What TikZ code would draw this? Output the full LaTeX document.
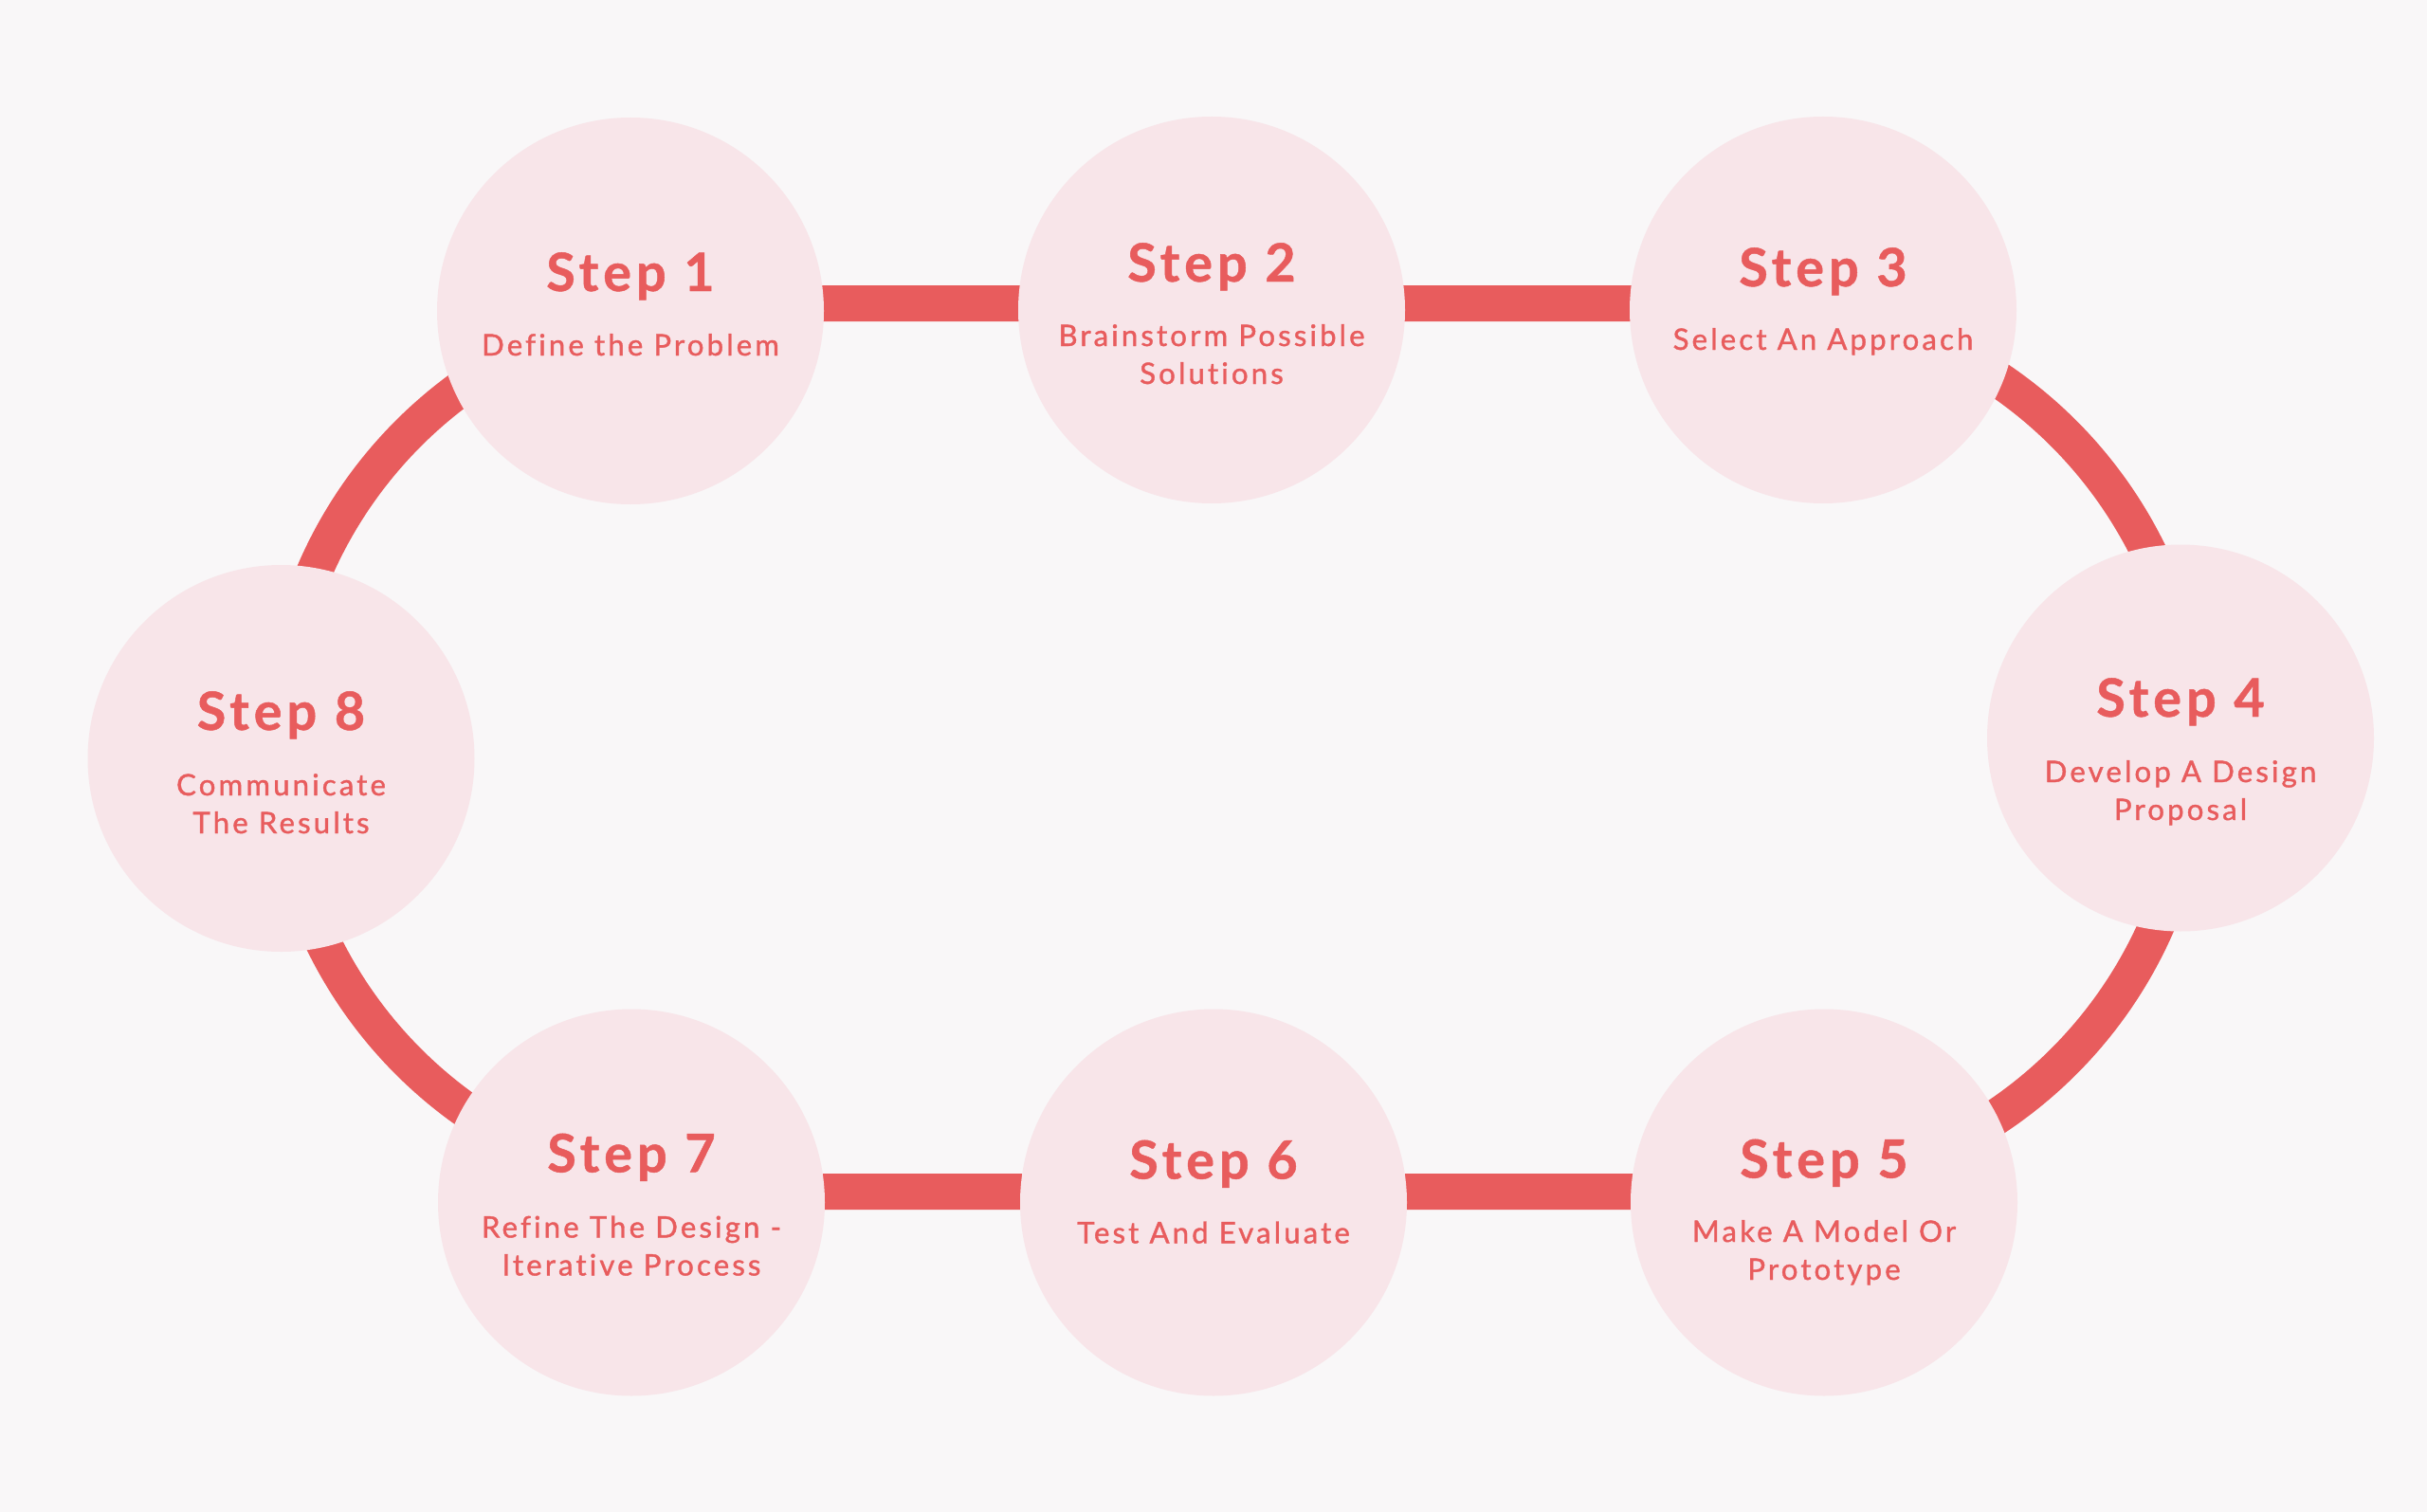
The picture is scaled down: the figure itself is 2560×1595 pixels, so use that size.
\documentclass[tikz,border=0pt]{standalone}
\usepackage{fontspec}
\setmainfont{Lato}
\newfontfamily\headfont[LetterSpace=9,FakeBold=0.8]{Lato}
\newfontfamily\subfont[LetterSpace=10,FakeBold=1.2,Ligatures=NoCommon]{Lato}
\definecolor{bgcol}{HTML}{F9F7F8}
\definecolor{circfill}{HTML}{F8E5E9}
\definecolor{stepred}{HTML}{E85C5D}
\begin{document}
\begin{tikzpicture}[x=0.5pt,y=-0.5pt,
  stepcircle/.style={circle, fill=circfill, minimum size=204pt, inner sep=0pt},
  head/.style={font=\headfont\bfseries\fontsize{27.9}{30}\selectfont, text=stepred, anchor=base, inner sep=0pt},
  sub/.style={font=\subfont\fontsize{15.6}{20}\selectfont, text=stepred, anchor=base, align=center, inner sep=0pt},
  track/.style={draw=stepred, line width=19pt}]
\fill[bgcol] (0,0) rectangle (2560,1595);
\useasboundingbox (0,0) rectangle (2560,1595);
% track
\coordinate (tl) at (762,320);
\coordinate (tr) at (1845.5,320);
\coordinate (br) at (1845.5,1257);
\coordinate (bl) at (762,1257);
\draw[track] (tl) -- (tr) arc[start angle=270,end angle=450,radius=468.5] -- (bl) arc[start angle=90,end angle=270,radius=468.5] -- cycle;
% circles
\node[stepcircle] (s1) at (665,328) {};
\node[stepcircle] (s2) at (1278,327) {};
\node[stepcircle] (s3) at (1923,327) {};
\node[stepcircle] (s4) at (2300,778.5) {};
\node[stepcircle] (s5) at (1924,1268.5) {};
\node[stepcircle] (s6) at (1280,1268.5) {};
\node[stepcircle] (s7) at (666,1268.5) {};
\node[stepcircle] (s8) at (296.5,800) {};
% texts (base = baseline of last line)
\node[head] (h1) at (665,307) {Step 1};
\node[sub] (t1) at (665,375) {Define the Problem};
\node[head] (h2) at (1278,297) {Step 2};
\node[sub] (t2) at (1278,405) {Brainstorm Possible\\Solutions};
\node[head] (h3) at (1923,302) {Step 3};
\node[sub] (t3) at (1923,369) {Select An Approach};
\node[head] (h4) at (2300,756) {Step 4};
\node[sub] (t4) at (2300,865) {Develop A Design\\Proposal};
\node[head] (h5) at (1924,1242.5) {Step 5};
\node[sub] (t5) at (1924,1350) {Make A Model Or\\Prototype};
\node[head] (h6) at (1280,1243.5) {Step 6};
\node[sub] (t6) at (1280,1311.5) {Test And Evaluate};
\node[head] (h7) at (666,1236.5) {Step 7};
\node[sub] (t7) at (666,1345.5) {Refine The Design -\\Iterative Process};
\node[head] (h8) at (296.5,770) {Step 8};
\node[sub] (t8) at (296.5,879) {Communicate\\The Results};
\end{tikzpicture}
\end{document}
